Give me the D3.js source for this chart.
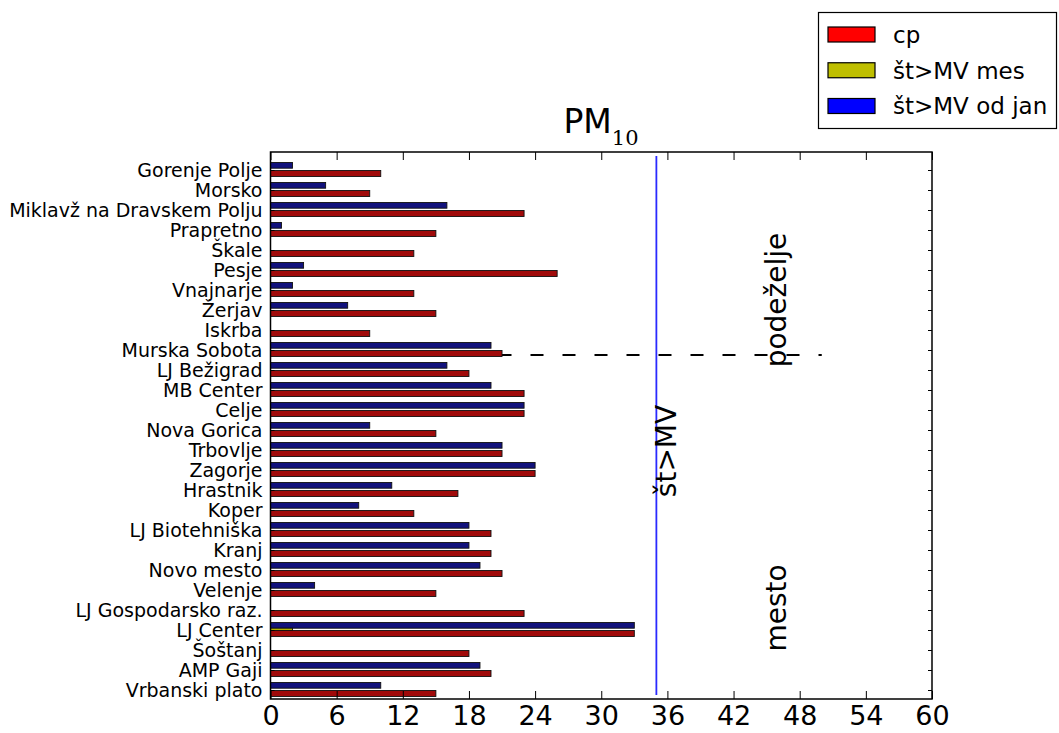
<!DOCTYPE html>
<html><head><meta charset="utf-8">
<script src="https://cdn.jsdelivr.net/npm/d3@7"></script>
<style>body{margin:0;background:#fff}svg{display:block}text{font-family:"DejaVu Sans",sans-serif;fill:#000}</style>
</head><body>
<svg id="c" width="1059" height="733"></svg>
<script>
const categories = ["Gorenje Polje","Morsko","Miklavž na Dravskem Polju","Prapretno","Škale","Pesje","Vnajnarje","Žerjav","Iskrba","Murska Sobota","LJ Bežigrad","MB Center","Celje","Nova Gorica","Trbovlje","Zagorje","Hrastnik","Koper","LJ Biotehniška","Kranj","Novo mesto","Velenje","LJ Gospodarsko raz.","LJ Center","Šoštanj","AMP Gaji","Vrbanski plato"];
const cp     = [10,9,23,15,13,26,13,15,9,21,18,23,23,15,21,24,17,13,20,20,21,15,23,33,18,20,15];
const stMes  = [0,0,0,0,0,0,0,0,0,0,0,0,0,0,0,0,0,0,0,0,0,0,0,2,0,0,0];
const stOdJan= [2,5,16,1,0,3,2,7,0,20,16,20,23,9,21,24,11,8,18,18,19,4,0,33,0,19,10];
const xTicks = [0,6,12,18,24,30,36,42,48,54,60];
const limitValue = 35;
const splitValue = 50;
const seriesNames = ["cp","št>MV mes","št>MV od jan"];
const legendColors = ["#ff0000","#bfbf00","#0000ff"];
const barColors = ["#a00a0a","#b5b500","#12127c"];

const svg = d3.select("#c");
const L=270.5, R=932, T=152, B=699;
const x = d3.scaleLinear().domain([0,60]).range([L,R]);
const y = d3.scalePoint().domain(categories).range([170,690]);
// sub-positions within a group (offset from the category tick)
const sub = d3.scaleOrdinal().domain(["od","mes","cp"]).range([[-7.5,5.7],[-1.8,2.3],[0.5,6.0]]);

const g = svg.append("g");
// limit line
g.append("line").attr("x1",x(limitValue)).attr("x2",x(limitValue)).attr("y1",156).attr("y2",695)
 .attr("stroke","#2a2aff").attr("stroke-width",1.8);
// dashed split line
const splitY = (y("Murska Sobota")+y("LJ Bežigrad"))/2 - 5;
g.append("line").attr("x1",x(0)).attr("x2",x(splitValue)).attr("y1",splitY).attr("y2",splitY)
 .attr("stroke","#000").attr("stroke-width",1.8).attr("stroke-dasharray","13,19").attr("stroke-dashoffset",-4);

function bars(vals, key, color){
  const [off,h] = sub(key);
  g.selectAll(null).data(categories.map((c,i)=>({c,v:vals[i]})).filter(d=>d.v>0))
   .enter().append("rect")
   .attr("x", x(0)).attr("y", d=>y(d.c)+off)
   .attr("width", d=>x(d.v)-x(0)).attr("height", h)
   .attr("fill", color).attr("stroke","#111").attr("stroke-width",0.9);
}
bars(stOdJan,"od",barColors[2]);
bars(stMes,"mes",barColors[1]);
bars(cp,"cp",barColors[0]);

// frame
svg.append("rect").attr("x",L).attr("y",T).attr("width",R-L).attr("height",B-T)
 .attr("fill","none").attr("stroke","#000").attr("stroke-width",1.5);

// x axes (ticks inward)
const xb = svg.append("g").attr("transform",`translate(0,${B})`)
  .call(d3.axisBottom(x).tickValues(xTicks).tickSize(-8).tickPadding(6).tickFormat(d3.format("d")));
const xt = svg.append("g").attr("transform",`translate(0,${T})`)
  .call(d3.axisTop(x).tickValues(xTicks).tickSize(-8).tickFormat(""));
[xb,xt].forEach(a=>{a.select(".domain").remove(); a.selectAll(".tick line").attr("stroke","#000").attr("stroke-width",1);});
xb.selectAll(".tick text").attr("font-size",27).attr("font-family","DejaVu Sans").attr("dy","0.74em");

// y axes
const yl = svg.append("g").attr("transform",`translate(${L},0)`)
  .call(d3.axisLeft(y).tickSize(-4).tickPadding(8));
const yr = svg.append("g").attr("transform",`translate(${R},0)`)
  .call(d3.axisRight(y).tickSize(-4).tickFormat(""));
[yl,yr].forEach(a=>{a.select(".domain").remove(); a.selectAll(".tick line").attr("stroke","#000");});
yl.selectAll(".tick text").attr("font-size",19).attr("font-family","DejaVu Sans").attr("dy","0.36em");

// title
const title = svg.append("text").attr("x",601).attr("y",133).attr("text-anchor","middle");
title.append("tspan").attr("font-size",33).text("PM");
title.append("tspan").attr("font-size",21).attr("font-family","DejaVu Serif").attr("dy",12).text("10");

// rotated annotations
function rot(txt, xx, yy){
  svg.append("text").attr("transform",`translate(${xx},${yy}) rotate(-90)`)
   .attr("text-anchor","middle").attr("font-size",28).text(txt);
}
rot("podeželje",786,300);
rot("št>MV",676,451);
rot("mesto",786,608);

// legend
const lg = svg.append("g");
lg.append("rect").attr("x",818.5).attr("y",12.5).attr("width",238).attr("height",116)
  .attr("fill","#fff").attr("stroke","#000").attr("stroke-width",1.2);
const ly = d3.scalePoint().domain(seriesNames).range([34.5,106]);
seriesNames.forEach((s,i)=>{
  lg.append("rect").attr("x",828).attr("y",ly(s)-7.5).attr("width",47).attr("height",15)
    .attr("fill",legendColors[i]).attr("stroke","#000").attr("stroke-width",1.2);
  lg.append("text").attr("x",893).attr("y",ly(s)).attr("dy","0.36em").attr("font-size",23).text(s);
});
</script>
</body></html>
